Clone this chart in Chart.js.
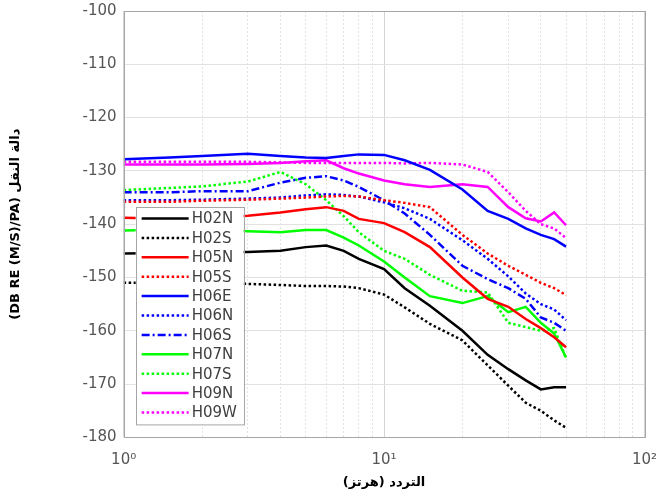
<!DOCTYPE html>
<html>
<head>
<meta charset="utf-8">
<script src="https://cdn.jsdelivr.net/npm/chart.js@4"></script>
<style>body{margin:0;background:#fff}</style>
</head>
<body>
<canvas id="myChart" width="661" height="500"></canvas>
<script>
// frequency points (Hz), shared by every station
var freqs = [1, 1.5, 2, 3, 4, 5, 6, 7, 8, 10, 12, 15, 20, 25, 30, 35, 40, 45, 50];

var h02n = [-145.5, -145.4, -145.3, -145.2, -145, -144.3, -144, -145, -146.5, -148.4, -152, -155.3, -160, -164.5, -167.2, -169.3, -171, -170.6, -170.6];
var h02s = [-151, -151, -151, -151.2, -151.4, -151.6, -151.6, -151.7, -152, -153.2, -155.6, -158.7, -161.8, -166.5, -170.3, -173.5, -175, -176.8, -178.2];
var h05n = [-138.8, -139, -138.9, -138.4, -137.8, -137.2, -136.8, -137.5, -139, -139.8, -141.5, -144.3, -150, -154, -155.5, -157.8, -159.5, -161.2, -163.1];
var h05s = [-135.8, -135.8, -135.6, -135.4, -135.2, -135, -134.8, -134.7, -134.8, -135.5, -136, -136.8, -142, -145.5, -147.8, -149.5, -151, -152, -153.3];
var h06e = [-127.8, -127.5, -127.2, -126.8, -127.2, -127.5, -127.6, -127.2, -126.9, -127, -128, -129.8, -133.5, -137.5, -139, -140.8, -142, -142.8, -144.2];
var h06n = [-135.5, -135.5, -135.4, -135.2, -135, -134.6, -134.4, -134.5, -134.8, -135.9, -137, -139, -143, -146.5, -149.8, -153, -155, -156, -158];
var h06s = [-134, -134, -133.8, -133.8, -132.2, -131.3, -131, -131.8, -133, -135.5, -138, -142, -147.8, -150.3, -152, -154, -157.5, -158.5, -160];
var h07n = [-141.2, -141, -140.9, -141.3, -141.5, -141.1, -141.1, -142.5, -144, -147, -150, -153.5, -154.8, -153.5, -156.5, -155.5, -158.5, -160.5, -165];
var h07s = [-133.6, -133.2, -132.9, -132, -130.2, -132.5, -135.5, -138.5, -141.5, -145, -146.5, -149.5, -152.5, -152.8, -158.5, -159.3, -160, -159.5, -165.2];
var h09n = [-128.8, -128.8, -128.8, -128.7, -128.5, -128.2, -128, -129.5, -130.5, -131.8, -132.5, -133, -132.5, -133, -136.8, -138.9, -139.5, -137.8, -140.2];
var h09w = [-128.3, -128.3, -128.3, -128.3, -128.4, -128.5, -128.5, -128.5, -128.5, -128.5, -128.6, -128.5, -128.8, -130.2, -134, -137.5, -140, -140.8, -142.6];

var yTicks = [-180, -170, -160, -150, -140, -130, -120, -110, -100];
var xDecades = {1: '10⁰', 10: '10¹', 100: '10²'};

var dotted = [2.5, 2.5];
var dashDot = [8, 3, 2, 3];

function pts(vals) {
  return freqs.map(function(f, i) { return {x: f, y: vals[i]}; });
}

function series(label, vals, color, dash) {
  return {
    label: label,
    data: pts(vals),
    borderColor: color,
    backgroundColor: color,
    borderWidth: 2.5,
    borderDash: dash,
    pointRadius: 0,
    tension: 0,
    fill: false
  };
}

var datasets = [
  series('H02N', h02n, '#000000', []),
  series('H02S', h02s, '#000000', dotted),
  series('H05N', h05n, '#ff0000', []),
  series('H05S', h05s, '#ff0000', dotted),
  series('H06E', h06e, '#0000ff', []),
  series('H06N', h06n, '#0000ff', dotted),
  series('H06S', h06s, '#0000ff', dashDot),
  series('H07N', h07n, '#00ff00', []),
  series('H07S', h07s, '#00ff00', dotted),
  series('H09N', h09n, '#ff00ff', []),
  series('H09W', h09w, '#ff00ff', dotted)
];

function isDecade(v) {
  return v === 1 || v === 10 || v === 100;
}

// legend box drawn inside the plot, bottom-left, plus the axes frame
var insideLegend = {
  id: 'insideLegend',
  afterDatasetsDraw: function(chart) {
    var ctx = chart.ctx;
    var area = chart.chartArea;
    var sets = chart.data.datasets;
    var rowH = 19.4;
    var w = 108;
    var h = sets.length * rowH + 4;
    var x0 = area.left + 12;
    var y0 = area.bottom - 13 - h;
    ctx.save();
    ctx.fillStyle = '#ffffff';
    ctx.fillRect(x0, y0, w, h);
    ctx.strokeStyle = '#a6a6a6';
    ctx.lineWidth = 1;
    ctx.strokeRect(Math.round(x0) + 0.5, Math.round(y0) + 0.5, w, h);
    ctx.font = '15px "DejaVu Sans"';
    ctx.textBaseline = 'middle';
    sets.forEach(function(ds, i) {
      var y = y0 + 11.5 + i * rowH;
      ctx.strokeStyle = ds.borderColor;
      ctx.lineWidth = ds.borderWidth;
      ctx.setLineDash(ds.borderDash || []);
      ctx.beginPath();
      ctx.moveTo(x0 + 6, y);
      ctx.lineTo(x0 + 53, y);
      ctx.stroke();
      ctx.setLineDash([]);
      ctx.fillStyle = '#404040';
      ctx.fillText(ds.label, x0 + 56, y + 1);
    });
    ctx.strokeStyle = '#a6a6a6';
    ctx.lineWidth = 1;
    ctx.strokeRect(Math.round(area.left) + 0.5, Math.round(area.top) + 0.5,
      Math.round(area.right - area.left), Math.round(area.bottom - area.top));
    ctx.restore();
  }
};

var ctx = document.getElementById('myChart').getContext('2d');
new Chart(ctx, {
  type: 'line',
  data: {datasets: datasets},
  options: {
    responsive: false,
    animation: false,
    devicePixelRatio: 1,
    layout: {padding: {left: 4, right: 0, top: 0, bottom: 6}},
    plugins: {
      legend: {display: false},
      tooltip: {enabled: false}
    },
    scales: {
      x: {
        type: 'logarithmic',
        min: 1,
        max: 100,
        afterBuildTicks: function(scale) {
          var t = [];
          [1, 10].forEach(function(d) {
            for (var k = 1; k < 10; k++) t.push({value: k * d, major: k === 1});
          });
          t.push({value: 100, major: true});
          scale.ticks = t;
        },
        ticks: {
          autoSkip: false,
          maxRotation: 0,
          padding: 4,
          color: '#555555',
          font: {family: 'DejaVu Sans', size: 15},
          callback: function(value) {
            return xDecades[value] || '';
          }
        },
        grid: {
          drawTicks: true,
          tickLength: 10,
          tickColor: 'rgba(0,0,0,0)',
          color: function(c) {
            return c.tick && isDecade(c.tick.value) ? '#d4d4d4' : '#e2e2e2';
          },
          lineWidth: 1
        },
        border: {
          display: false,
          dash: function(c) {
            return c.tick && isDecade(c.tick.value) ? [] : [2, 2];
          }
        },
        title: {
          display: true,
          text: '\u202Bالتردد (هرتز)\u202C',
          color: '#000000',
          font: {family: 'DejaVu Sans', size: 13, weight: 'bold'},
          padding: {top: 1, bottom: 4}
        }
      },
      y: {
        min: -180,
        max: -100,
        afterBuildTicks: function(scale) {
          scale.ticks = yTicks.map(function(v) { return {value: v}; });
        },
        ticks: {
          padding: 2,
          color: '#555555',
          font: {family: 'DejaVu Sans', size: 15}
        },
        grid: {
          drawTicks: true,
          tickLength: 5,
          tickColor: 'rgba(0,0,0,0)',
          color: '#e2e2e2',
          lineWidth: 1
        },
        border: {display: false},
        title: {
          display: true,
          text: '\u202Bدالة النقل (DB RE (M/S)/PA)\u202C',
          color: '#000000',
          font: {family: 'DejaVu Sans', size: 13, weight: 'bold'},
          padding: {top: 4, bottom: 57}
        }
      }
    }
  },
  plugins: [insideLegend]
});
</script>
</body>
</html>
